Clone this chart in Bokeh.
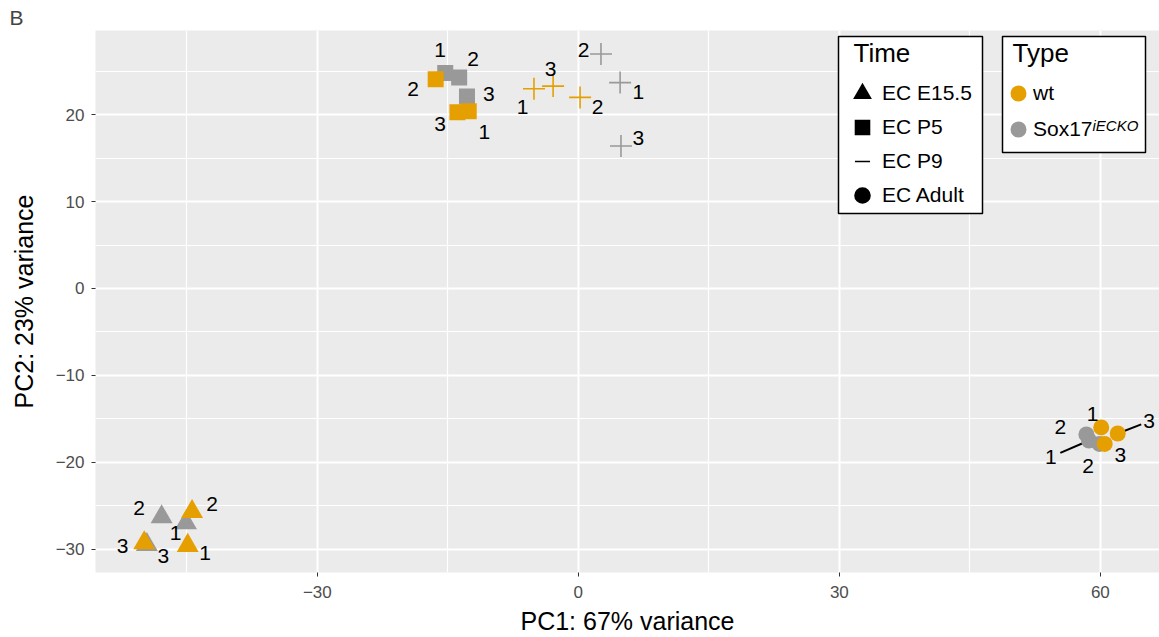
from bokeh.plotting import figure
from bokeh.models import (ColumnDataSource, FixedTicker, Legend, LegendItem, Label,
                          LabelSet, BoxAnnotation, Range1d)
from bokeh.embed import file_html
from bokeh.resources import INLINE
from bokeh.core.properties import value

# ---------------- data ----------------
time_levels = ["EC E15.5", "EC P5", "EC P9", "EC Adult"]
type_levels = ["wt", "Sox17"]

sample_time = (["EC E15.5"] * 6 + ["EC P5"] * 6 + ["EC P9"] * 6 + ["EC Adult"] * 6)
sample_type = (["wt"] * 3 + ["Sox17"] * 3) * 4
sample_rep = ["1", "2", "3"] * 8

pc1 = [-44.9, -44.4, -49.9, -45.1, -47.9, -49.6,
       -12.6, -16.4, -13.9, -15.3, -13.7, -12.8,
       -5.1, 0.2, -2.9, 4.8, 2.6, 4.9,
       60.1, 60.5, 62.0, 58.7, 58.4, 59.9]
pc2 = [-29.6, -25.7, -29.3, -27.0, -26.3, -29.5,
       20.4, 24.1, 20.3, 24.8, 24.3, 22.1,
       23.0, 22.0, 23.3, 23.7, 27.0, 16.4,
       -16.0, -17.9, -16.7, -17.5, -16.8, -17.9]

# repelled label positions (as placed in the picture)
label_pc1 = [-42.9, -42.1, -52.4, -46.3, -50.5, -47.7,
             -10.8, -19.0, -15.9, -15.9, -12.1, -10.3,
             -6.4, 2.2, -3.2, 6.9, 0.6, 6.9,
             59.1, 58.6, 65.6, 54.3, 55.4, 62.3]
label_pc2 = [-30.5, -24.8, -29.6, -28.1, -25.3, -30.8,
             18.0, 23.0, 18.9, 27.4, 26.4, 22.4,
             20.9, 20.9, 25.3, 22.6, 27.4, 17.3,
             -14.4, -20.4, -15.3, -19.4, -16.0, -19.2]
label_segment = [False] * 20 + [True, True, False, False]

x_ticks = [-30, 0, 30, 60]
y_ticks = [-30, -20, -10, 0, 10, 20]

# ---------------- styles ----------------
FONT = "Liberation Sans"
type_color = {"wt": "#E69F00", "Sox17": "#999999"}
time_marker = {"EC E15.5": "triangle", "EC P5": "square", "EC P9": "cross", "EC Adult": "circle"}
time_size = {"EC E15.5": 22, "EC P5": 16, "EC P9": 22, "EC Adult": 16}

p = figure(width=1159, height=637, output_backend="svg", toolbar_location=None,
           x_range=Range1d(-55.5, 66.8), y_range=Range1d(-32.7, 29.7),
           min_border_left=95, min_border_right=0, min_border_top=30, min_border_bottom=65)
p.background_fill_color = "#EBEBEB"
p.border_fill_color = "white"
p.outline_line_color = None

p.title.text = "B"
p.title.text_font = FONT
p.title.text_font_size = "21px"
p.title.text_font_style = "normal"
p.title.align = "left"
p.title.offset = -86
p.title.standoff = 4

# axes
p.xaxis.ticker = FixedTicker(ticks=x_ticks, minor_ticks=[-45, -15, 15, 45])
p.yaxis.ticker = FixedTicker(ticks=y_ticks, minor_ticks=[-25, -15, -5, 5, 15, 25])
p.xaxis.major_label_overrides = {t: (str(t) if t >= 0 else "\u2212" + str(-t)) for t in x_ticks}
p.yaxis.major_label_overrides = {t: (str(t) if t >= 0 else "\u2212" + str(-t)) for t in y_ticks}
p.xaxis.axis_label = "PC1: 67% variance"
p.yaxis.axis_label = "PC2: 23% variance"
for ax in (p.xaxis, p.yaxis):
    ax.axis_line_color = None
    ax.major_tick_in = 0
    ax.major_tick_out = 4
    ax.major_tick_line_color = "#333333"
    ax.minor_tick_line_color = None
    ax.major_label_text_font = FONT
    ax.major_label_text_font_size = "17px"
    ax.major_label_text_color = "#4D4D4D"
    ax.axis_label_text_font = FONT
    ax.axis_label_text_font_size = "25px"
    ax.axis_label_text_font_style = "normal"
    ax.axis_label_text_color = "black"
p.xaxis.major_label_standoff = 9
p.xaxis.axis_label_standoff = 6
p.yaxis.major_label_standoff = 7
p.yaxis.axis_label_standoff = 15

# grid
for g in (p.xgrid, p.ygrid):
    g.grid_line_color = "white"
    g.grid_line_width = 2
    g.minor_grid_line_color = "white"
    g.minor_grid_line_width = 1.2

# ---------------- data marks ----------------
src_all = ColumnDataSource(dict(x=pc1, y=pc2, lx=label_pc1, ly=label_pc2, rep=sample_rep))

# repel segments (drawn under the points)
seg_x0, seg_y0, seg_x1, seg_y1 = [], [], [], []
for i, s in enumerate(label_segment):
    if s:
        seg_x0.append(pc1[i]); seg_y0.append(pc2[i])
        seg_x1.append(pc1[i] + 0.75 * (label_pc1[i] - pc1[i]))
        seg_y1.append(pc2[i] + 0.75 * (label_pc2[i] - pc2[i]))
p.segment(x0=seg_x0, y0=seg_y0, x1=seg_x1, y1=seg_y1, line_color="black", line_width=2)

for typ in ["Sox17", "wt"]:
    for tm in time_levels:
        idx = [i for i in range(len(pc1)) if sample_type[i] == typ and sample_time[i] == tm]
        src = ColumnDataSource(dict(x=[pc1[i] for i in idx], y=[pc2[i] for i in idx]))
        m = time_marker[tm]
        if m == "cross":
            p.scatter("x", "y", source=src, marker=m, size=time_size[tm],
                      line_color=type_color[typ], line_width=1.6)
        else:
            p.scatter("x", "y", source=src, marker=m, size=time_size[tm],
                      fill_color=type_color[typ], line_color=None)

labels = LabelSet(x="lx", y="ly", text="rep", source=src_all, text_align="center",
                  text_baseline="middle", text_font=value(FONT), text_font_size="21px",
                  text_color="black")
p.add_layout(labels)

# ---------------- legends ----------------
box_kw = dict(left_units="screen", right_units="screen", bottom_units="screen", top_units="screen",
              fill_color="white", fill_alpha=1, line_color="black", line_width=1.5, line_alpha=1)
p.add_layout(BoxAnnotation(left=743, right=887, bottom=359, top=536, **box_kw))
p.add_layout(BoxAnnotation(left=907, right=1050, bottom=420, top=536, **box_kw))

NAN = float("nan")
time_items = []
for tm in time_levels:
    m = time_marker[tm]
    if m == "cross":
        r = p.scatter(x=[NAN], y=[NAN], marker="dash", line_color="black", line_width=1.5,
                      line_cap="square")
    elif m == "triangle":
        r = p.scatter(x=[NAN], y=[NAN], marker="triangle", fill_color="black", line_color="black",
                      line_width=3, line_join="miter")
    elif m == "circle":
        r = p.scatter(x=[NAN], y=[NAN], marker=m, fill_color="black", line_color="black",
                      line_width=3)
    else:
        r = p.scatter(x=[NAN], y=[NAN], marker=m, fill_color="black", line_color="black",
                      line_width=2, line_join="miter")
    time_items.append(LegendItem(label=tm, renderers=[r]))

type_items = []
for typ in type_levels:
    r = p.scatter(x=[NAN], y=[NAN], marker="circle", fill_color=type_color[typ],
                  line_color=type_color[typ], line_width=4)
    type_items.append(LegendItem(label=typ, renderers=[r]))

def style_legend(lg, h):
    lg.border_line_color = None
    lg.background_fill_alpha = 0
    lg.padding = 0
    lg.margin = 0
    lg.spacing = 0
    lg.glyph_height = h
    lg.label_height = h
    lg.label_text_font = FONT
    lg.label_text_font_size = "21px"
    lg.label_text_color = "black"

leg_time = Legend(items=time_items, location=(749, 360))
style_legend(leg_time, 34)
leg_time.glyph_width = 36
leg_time.label_standoff = 2
leg_type = Legend(items=type_items, location=(908, 425))
style_legend(leg_type, 36)
leg_type.glyph_width = 30
leg_type.label_standoff = 0
p.add_layout(leg_time)
p.add_layout(leg_type)

for txt, xx in (("Time", 758), ("Type", 917)):
    p.add_layout(Label(x=xx, y=520, x_units="screen", y_units="screen", text=txt,
                       text_font=FONT, text_font_size="26px", text_baseline="middle",
                       text_color="black"))
p.add_layout(Label(x=997, y=456, x_units="screen", y_units="screen", text="iECKO",
                   text_font=FONT, text_font_size="15px", text_font_style="italic",
                   text_baseline="top", text_color="black"))

open("out.html", "w").write(file_html(p, INLINE))
